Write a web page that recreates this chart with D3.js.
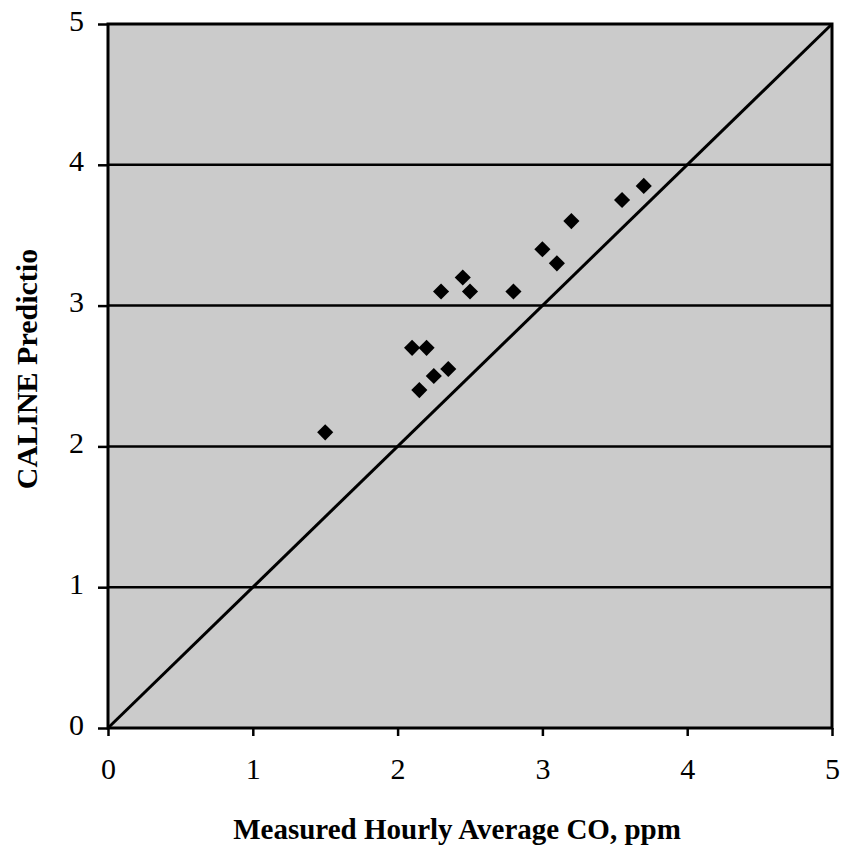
<!DOCTYPE html>
<html>
<head>
<meta charset="utf-8">
<script src="https://cdn.jsdelivr.net/npm/d3@7"></script>
<style>
  body { margin: 0; background: #fff; }
  text { font-family: "Liberation Serif", "Times New Roman", serif; fill: #000; }
</style>
</head>
<body>
<div id="chart"></div>
<script>
// measured CO (x) vs CALINE prediction (y), ppm
var measured  = [1.5, 2.1, 2.2, 2.15, 2.25, 2.35, 2.3, 2.45, 2.5, 2.8, 3.0, 3.1, 3.2, 3.55, 3.7];
var predicted = [2.1, 2.7, 2.7, 2.4, 2.5, 2.55, 3.1, 3.2, 3.1, 3.1, 3.4, 3.3, 3.6, 3.75, 3.85];
var xTicks = [0, 1, 2, 3, 4, 5];
var yTicks = [0, 1, 2, 3, 4, 5];
var gridValues = [1, 2, 3, 4];

var width = 843, height = 852;
var margin = {left: 108, right: 11, top: 24, bottom: 124};

var svg = d3.select('#chart').append('svg')
    .attr('width', width)
    .attr('height', height);

var x = d3.scaleLinear().domain([0, 5]).range([margin.left, width - margin.right]);
var y = d3.scaleLinear().domain([0, 5]).range([height - margin.bottom, margin.top]);

// plot background
svg.append('rect')
    .attr('x', x(0)).attr('y', y(5))
    .attr('width', x(5) - x(0)).attr('height', y(0) - y(5))
    .attr('fill', '#cbcbcb');

// horizontal gridlines
svg.selectAll('.grid')
    .data(gridValues)
    .enter().append('line')
    .attr('class', 'grid')
    .attr('x1', x(0)).attr('x2', x(5))
    .attr('y1', function(d) { return y(d); })
    .attr('y2', function(d) { return y(d); })
    .attr('stroke', '#000')
    .attr('stroke-width', 2.5);

// 1:1 line
svg.append('line')
    .attr('x1', x(0)).attr('y1', y(0))
    .attr('x2', x(5)).attr('y2', y(5))
    .attr('stroke', '#000')
    .attr('stroke-width', 3);

// frame
svg.append('rect')
    .attr('x', x(0)).attr('y', y(5))
    .attr('width', x(5) - x(0)).attr('height', y(0) - y(5))
    .attr('fill', 'none')
    .attr('stroke', '#000')
    .attr('stroke-width', 3);

// axes
var xAxis = d3.axisBottom(x).tickValues(xTicks).tickSize(8).tickPadding(22).tickFormat(d3.format('d'));
var yAxis = d3.axisLeft(y).tickValues(yTicks).tickSize(10).tickPadding(14).tickFormat(d3.format('d'));

var gx = svg.append('g')
    .attr('transform', 'translate(0,' + y(0) + ')')
    .call(xAxis);
var gy = svg.append('g')
    .attr('transform', 'translate(' + x(0) + ',0)')
    .call(yAxis);

[gx, gy].forEach(function(g) {
  g.select('.domain').remove();
  g.selectAll('.tick line').attr('stroke', '#000').attr('stroke-width', 2.5);
  g.selectAll('.tick text')
    .style('font-family', '"Liberation Serif", serif')
    .style('font-size', '30px')
    .attr('fill', '#000');
});
gy.selectAll('.tick text').attr('dy', '0.2em');

// markers
var pts = measured.map(function(m, i) { return {x: m, y: predicted[i]}; });
svg.selectAll('.pt')
    .data(pts)
    .enter().append('path')
    .attr('class', 'pt')
    .attr('d', d3.symbol().type(d3.symbolSquare).size(130))
    .attr('transform', function(d) { return 'translate(' + x(d.x) + ',' + y(d.y) + ') rotate(45)'; })
    .attr('fill', '#000');

// axis titles
svg.append('text')
    .attr('x', 457).attr('y', 839)
    .attr('text-anchor', 'middle')
    .style('font-size', '29px')
    .style('font-weight', 'bold')
    .text('Measured Hourly Average CO, ppm');

svg.append('text')
    .attr('transform', 'translate(37,369) rotate(-90)')
    .attr('text-anchor', 'middle')
    .style('font-size', '30px')
    .style('font-weight', 'bold')
    .text('CALINE Predictio');
</script>
</body>
</html>
